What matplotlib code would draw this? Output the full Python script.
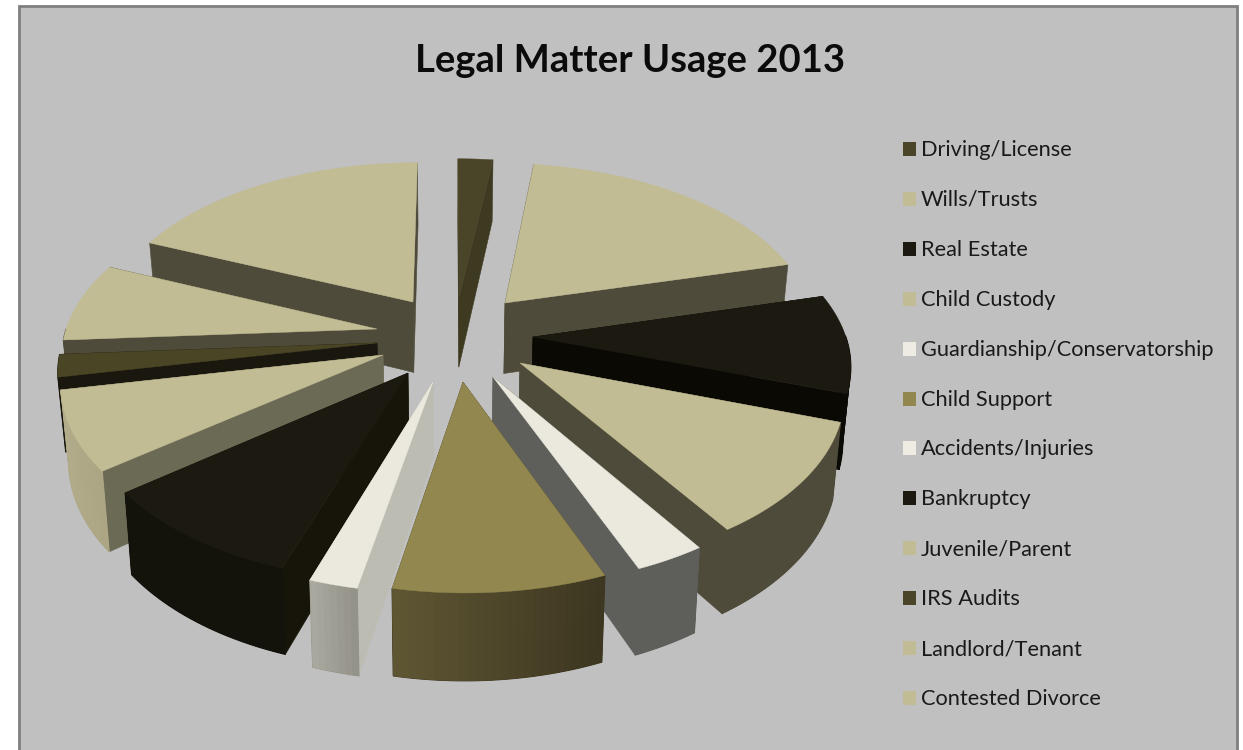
import numpy as np
import matplotlib
matplotlib.use("Agg")
import matplotlib.pyplot as plt
from matplotlib.patches import Polygon, Rectangle
from matplotlib.colors import to_rgb

TITLE = "Legal Matter Usage 2013"
categories = ["Driving/License", "Wills/Trusts", "Real Estate", "Child Custody",
              "Guardianship/Conservatorship", "Child Support", "Accidents/Injuries",
              "Bankruptcy", "Juvenile/Parent", "IRS Audits", "Landlord/Tenant",
              "Contested Divorce"]
values = [2.1, 18.9, 9.3, 10.6, 3.1, 9.2, 2.1, 9.3, 7.4, 2.1, 7.5, 18.6]

# styling: slice top colour, radial wall colour, outer wall gradient
top_colors = ["#4a4529", "#c2bc94", "#1c1a10", "#c2bc94", "#ebe9dd", "#92874f",
              "#ebe9dd", "#1c1a10", "#c2bc94", "#4a4525", "#c2bc94", "#c2bc94"]
wall_colors = ["#3e3a21", "#4f4b3a", "#0a0904", "#4f4b3a", "#5e5f5a", "#4a4428",
               "#bcbcb2", "#171509", "#6b6a55", "#1a180e", "#4f4b3a", "#4f4b3a"]
outer_a = ["#3e3a21", "#4f4b3a", "#0a0904", "#4f4b3a", "#5e5f5a", "#3d3620",
           "#949389", "#14130b", "#aca684", "#1a180e", "#4f4b3a", "#4f4b3a"]
outer_b = ["#3e3a21", "#4f4b3a", "#0a0904", "#4f4b3a", "#5e5f5a", "#5e5632",
           "#a9a89f", "#14130b", "#b4ae8c", "#1a180e", "#4f4b3a", "#4f4b3a"]
legend_colors = ["#4a4529", "#c2bc94", "#1c1a10", "#c2bc94", "#eeece2", "#92874f",
                 "#eeece2", "#1c1a10", "#c2bc94", "#4a4529", "#c2bc94", "#c2bc94"]
# layout: where each exploded slice's point sits, in pixels
tip_x = [459, 505, 533, 520, 493, 463, 433, 408, 383, 377, 377, 413]
tip_y = [297, 303, 337, 363, 377, 382, 382, 373, 355, 343, 329, 302]

W, H = 1243, 750
CX, CY, A, B, K, DEPTH, SHRINK = 450, 345, 315, 170, 0.14, 73, 0.02
FONT = ["Lato", "DejaVu Sans"]

fig = plt.figure(figsize=(W / 100, H / 100), dpi=100, facecolor="white")
ax = fig.add_axes([0, 0, 1, 1])
ax.set_xlim(0, W)
ax.set_ylim(H, 0)
ax.axis("off")
ax.add_patch(Rectangle((19, 6), 1218, H + 10, fc="#c0c0c0", ec="#7f7f7f", lw=2.0, zorder=0))


def project(X, Y, z=0.0):
    """Plane point to screen; z=1 is the underside of the pie."""
    s = 1 / (1 - K * Y)
    sx = CX + A * X * s * (1 - SHRINK * z)
    sy = CY + B * Y * s + DEPTH * s * z
    return np.column_stack([np.atleast_1d(sx), np.atleast_1d(sy)])


def unproject(px, py):
    ys = (py - CY) / B
    Y = ys / (1 + K * ys)
    return (px - CX) / (A / (1 - K * Y)), Y


fr = np.array(values) / np.sum(values)
edges = np.concatenate([[0], np.cumsum(fr)]) * 2 * np.pi
slices = []
for i in range(len(values)):
    x0, y0 = unproject(tip_x[i], tip_y[i])
    th = np.linspace(edges[i], edges[i + 1], max(int(fr[i] * 300), 8))
    X = x0 + np.sin(th)
    Y = y0 - np.cos(th)
    slices.append((y0 - np.cos((edges[i] + edges[i + 1]) / 2), i, x0, y0, th, X, Y))

z = 2
for _, i, x0, y0, th, X, Y in sorted(slices, key=lambda t: t[0]):
    # radial walls, farther one first
    ends = sorted([0, -1], key=lambda e: Y[e])
    for e in ends:
        q = np.vstack([project(x0, y0), project(X[e], Y[e]),
                       project(X[e], Y[e], 1), project(x0, y0, 1)])
        ax.add_patch(Polygon(q, fc=wall_colors[i], ec=wall_colors[i], lw=0.4, zorder=z))
        z += 1
    # outer wall: a base shape, then overlapping gradient strips to hide seams
    ca, cb = np.array(to_rgb(outer_a[i])), np.array(to_rgb(outer_b[i]))
    facing = np.where(np.cos(th) < 0.02)[0]
    if len(facing) > 1:
        base = np.vstack([project(X[facing], Y[facing]), project(X[facing], Y[facing], 1)[::-1]])
        ax.add_patch(Polygon(base, fc=ca, ec=ca, lw=0.8, zorder=z))
        z += 0.001
        for j in facing[:-1]:
            k = min(j + 2, facing[-1])
            t = j / max(len(th) - 2, 1)
            col = ca + (cb - ca) * t
            q = np.vstack([project(X[j:k + 1], Y[j:k + 1]),
                           project(X[j:k + 1], Y[j:k + 1], 1)[::-1]])
            ax.add_patch(Polygon(q, fc=col, ec="none", zorder=z))
            z += 0.001
    z = int(z) + 1
    top = np.vstack([project(x0, y0), project(X, Y)])
    ax.add_patch(Polygon(top, fc=top_colors[i], ec=top_colors[i], lw=0.3, zorder=z))
    z += 1

ax.text(630, 61, TITLE, ha="center", va="center", fontsize=27.5, fontweight="bold",
        family=FONT, color="#0b0b0b", zorder=500)
for n, (lab, col) in enumerate(zip(categories, legend_colors)):
    y = 149 + n * 49.9
    ax.add_patch(Rectangle((903, y - 7), 13, 14, fc=col, ec="none", zorder=500))
    ax.text(921, y + 1, lab, ha="left", va="center", fontsize=15.7, family=FONT,
            color="#1a1a1a", zorder=500)

fig.savefig("out.png", dpi=100, facecolor="white")
